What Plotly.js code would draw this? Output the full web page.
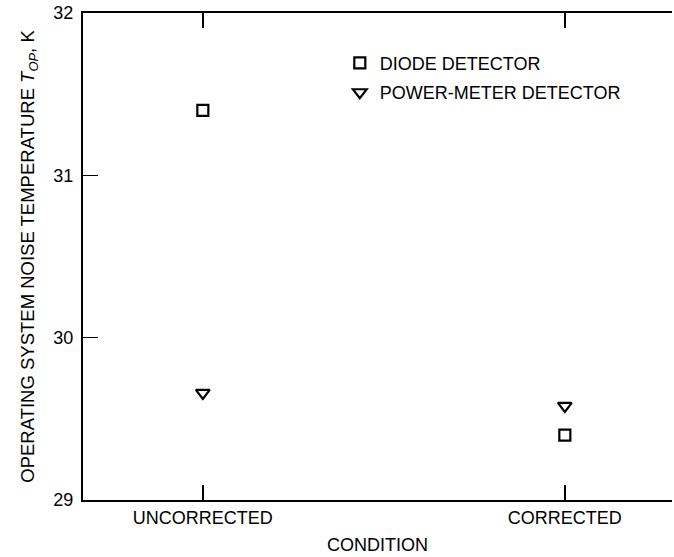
<!DOCTYPE html>
<html>
<head>
<meta charset="utf-8">
<script src="https://cdn.plot.ly/plotly-3.0.1.min.js"></script>
<style>html,body{margin:0;padding:0;background:#fff;}#chart{width:674px;height:557px;}</style>
</head>
<body>
<div id="chart"></div>
<script>
const conditions = ["UNCORRECTED", "CORRECTED"];
const diodeValues = [31.40, 29.40];
const powerMeterValues = [29.66, 29.58];
const yTickValues = [29, 30, 31, 32];
const seriesNames = ["DIODE DETECTOR", "POWER-METER DETECTOR"];

const FONT = "Liberation Sans, Arial, Helvetica, sans-serif";

const traces = [
  {
    x: conditions, y: diodeValues, name: seriesNames[0], type: "scatter", mode: "markers",
    legendgroup: "a",
    marker: {symbol: "square-open", size: 11, color: "#000", line: {width: 2.2, color: "#000"}}
  },
  {
    x: conditions, y: powerMeterValues, name: seriesNames[1], type: "scatter", mode: "markers",
    legendgroup: "b",
    marker: {symbol: "triangle-down-open", size: 12, color: "#000", line: {width: 2.2, color: "#000"}}
  }
];

const layout = {
  width: 674, height: 557,
  margin: {l: 83, r: 2, t: 13, b: 57, pad: 0},
  paper_bgcolor: "#fff", plot_bgcolor: "#fff",
  font: {family: FONT, size: 18, color: "#000"},
  showlegend: true,
  legend: {
    x: 0.436, y: 0.935, xanchor: "left", yanchor: "top",
    bgcolor: "rgba(0,0,0,0)", borderwidth: 0,
    font: {family: FONT, size: 18, color: "#000"},
    tracegroupgap: 3
  },
  xaxis: {
    type: "category",
    range: [-0.331, 1.296],
    showline: true, linewidth: 2, linecolor: "#000",
    mirror: "ticks",
    ticks: "inside", ticklen: 15, tickwidth: 1.5, tickcolor: "#000",
    showgrid: false, zeroline: false,
    tickfont: {family: FONT, size: 18, color: "#000"},
    title: {text: "CONDITION", font: {family: FONT, size: 18, color: "#000"}, standoff: 12}
  },
  yaxis: {
    range: [29, 32],
    tickvals: yTickValues,
    ticktext: yTickValues.map(String),
    showline: true, linewidth: 2, linecolor: "#000",
    ticks: "inside", ticklen: 15, tickwidth: 1.5, tickcolor: "#000",
    ticklabelstandoff: 4,
    showgrid: false, zeroline: false,
    tickfont: {family: FONT, size: 18, color: "#000"},
    title: {text: "OPERATING SYSTEM NOISE TEMPERATURE <i>T</i><sub><i>OP</i></sub>, K", font: {family: FONT, size: 18.5, color: "#000"}, standoff: 14}
  },
  yaxis2: {
    overlaying: "y", side: "right", matches: "y",
    range: [29, 32],
    tickvals: [30, 31],
    showticklabels: false,
    showline: false, showgrid: false, zeroline: false,
    ticks: "inside", ticklen: 10, tickwidth: 1.5, tickcolor: "#000"
  }
};

Plotly.newPlot("chart", traces, layout, {displayModeBar: false, staticPlot: true});
</script>
</body>
</html>
